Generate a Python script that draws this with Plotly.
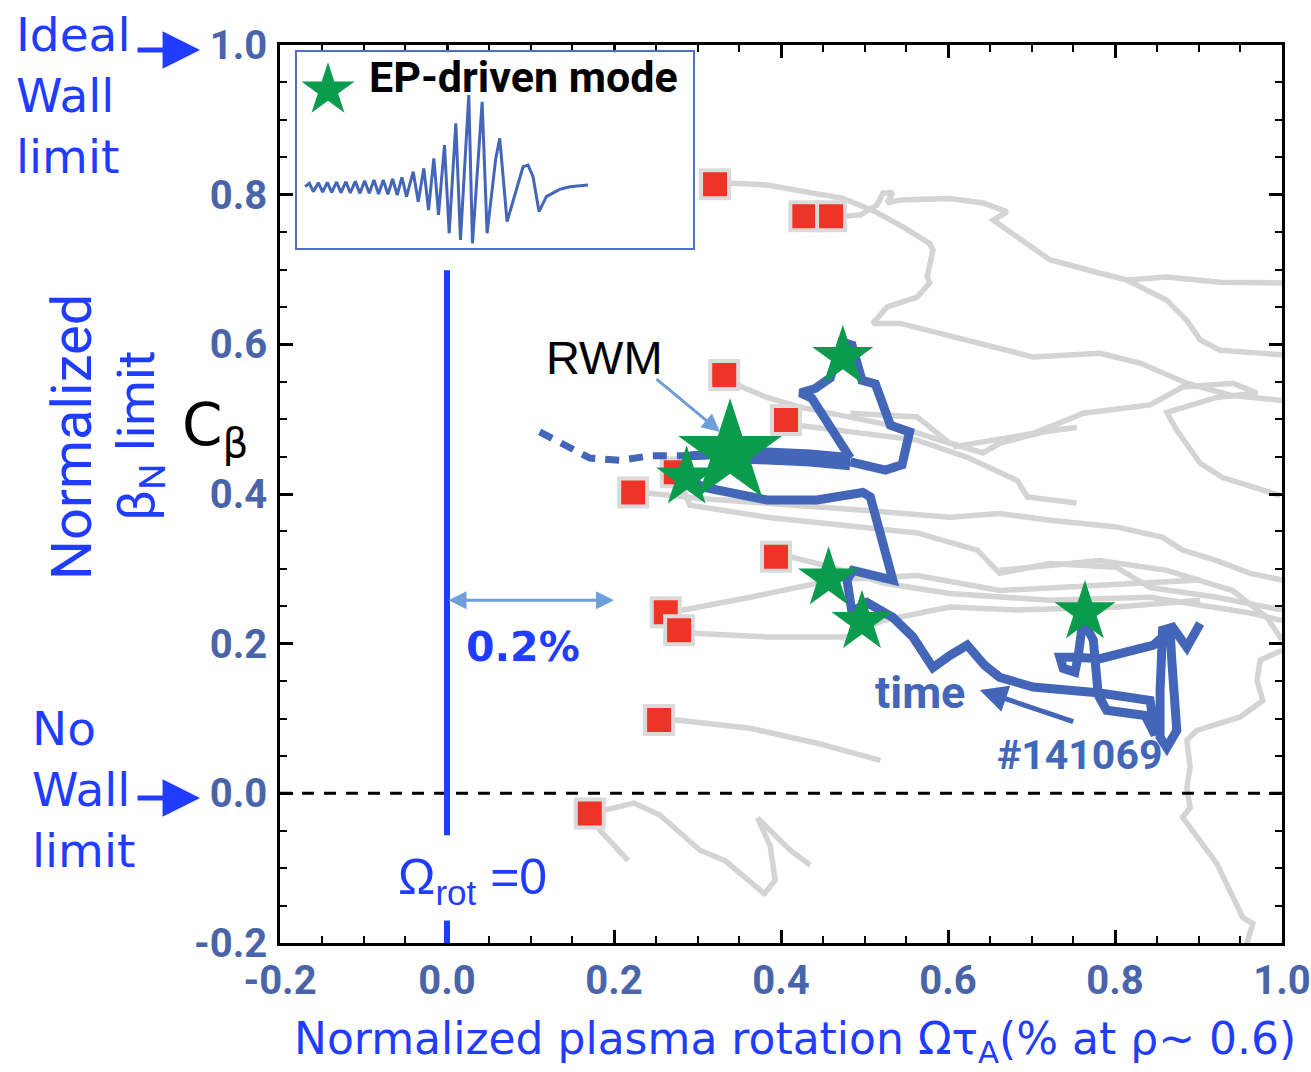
import plotly.graph_objects as go

# ---- tick labels ----
tick_vals = [-0.2, 0.0, 0.2, 0.4, 0.6, 0.8, 1.0]
tick_text = ["-0.2", "0.0", "0.2", "0.4", "0.6", "0.8", "1.0"]

# ---- stability database: onset points (red) and their trajectories (grey) ----
onset_x = [0.321, 0.428, 0.460, 0.332, 0.406, 0.223, 0.274, 0.394, 0.262, 0.278, 0.254, 0.171]
onset_y = [0.814, 0.771, 0.771, 0.559, 0.499, 0.402, 0.429, 0.316, 0.242, 0.218, 0.098, -0.027]

traj_a_x = [0.331, 0.383, 0.474, 0.510, 0.546, 0.578, 0.582, 0.575, 0.578, 0.563, 0.527, 0.510, 0.543, 0.623, 0.702, 0.782, 0.830, 0.886, 0.938, 1.0]
traj_a_y = [0.816, 0.813, 0.795, 0.779, 0.757, 0.735, 0.726, 0.690, 0.682, 0.663, 0.650, 0.628, 0.628, 0.606, 0.583, 0.588, 0.575, 0.548, 0.532, 0.525]
traj_b_x = [0.474, 0.495, 0.515, 0.522, 0.534, 0.527, 0.543, 0.602, 0.642, 0.671, 0.654, 0.683, 0.722, 0.782, 0.814, 0.862, 0.926, 1.0]
traj_b_y = [0.771, 0.773, 0.786, 0.802, 0.803, 0.789, 0.793, 0.795, 0.789, 0.777, 0.766, 0.743, 0.713, 0.695, 0.686, 0.690, 0.683, 0.682]
traj_c_x = [0.814, 0.862, 0.886, 0.902, 0.926, 1.0]
traj_c_y = [0.686, 0.659, 0.632, 0.606, 0.592, 0.586]
traj_d_x = [0.343, 0.383, 0.423, 0.503, 0.543, 0.590, 0.642, 0.662, 0.722, 0.754]
traj_d_y = [0.548, 0.529, 0.516, 0.499, 0.489, 0.472, 0.455, 0.468, 0.485, 0.489]
traj_e_x = [0.606, 0.650, 0.702, 0.734, 0.762, 0.842, 0.881, 0.941, 0.970, 0.922, 0.862, 0.874, 0.902, 0.929, 0.998]
traj_e_y = [0.463, 0.472, 0.481, 0.495, 0.508, 0.519, 0.543, 0.548, 0.535, 0.529, 0.509, 0.485, 0.441, 0.422, 0.398]
traj_f_x = [0.420, 0.483, 0.563, 0.623, 0.683, 0.695, 0.754]
traj_f_y = [0.492, 0.483, 0.472, 0.449, 0.418, 0.396, 0.388]
traj_g_x = [0.223, 0.243, 0.303, 0.383, 0.503, 0.602, 0.662, 0.722, 0.802, 0.857, 0.881, 0.922, 0.962, 1.0]
traj_g_y = [0.402, 0.401, 0.394, 0.388, 0.378, 0.369, 0.374, 0.365, 0.356, 0.342, 0.325, 0.311, 0.294, 0.285]
traj_h_x = [0.274, 0.291, 0.383, 0.503, 0.563, 0.635, 0.662, 0.722, 0.802, 0.842, 0.922, 1.0]
traj_h_y = [0.429, 0.385, 0.369, 0.356, 0.348, 0.325, 0.294, 0.307, 0.302, 0.275, 0.262, 0.245]
traj_i_x = [0.394, 0.411, 0.462, 0.522, 0.602, 0.722, 0.842, 0.962, 1.0]
traj_i_y = [0.316, 0.316, 0.302, 0.281, 0.267, 0.258, 0.262, 0.241, 0.231]
traj_j_x = [0.262, 0.283, 0.363, 0.443, 0.462, 0.563, 0.662, 0.782, 0.902]
traj_j_y = [0.242, 0.245, 0.262, 0.281, 0.285, 0.291, 0.271, 0.278, 0.285]
traj_k_x = [0.278, 0.295, 0.383, 0.479, 0.522, 0.602, 0.683, 0.802, 0.902]
traj_k_y = [0.218, 0.214, 0.209, 0.209, 0.231, 0.249, 0.245, 0.249, 0.258]
traj_l_x = [0.254, 0.275, 0.363, 0.443, 0.519]
traj_l_y = [0.098, 0.098, 0.087, 0.067, 0.044]
traj_m_x = [0.171, 0.224, 0.255, 0.303, 0.333, 0.380, 0.393, 0.387, 0.372, 0.387, 0.411, 0.435]
traj_m_y = [-0.027, -0.013, -0.029, -0.076, -0.090, -0.134, -0.116, -0.070, -0.033, -0.049, -0.076, -0.096]
traj_n_x = [0.171, 0.183, 0.217]
traj_n_y = [-0.027, -0.049, -0.090]
traj_o_x = [1.0, 0.974, 0.970, 0.977, 0.950, 0.898, 0.886, 0.890, 0.886, 0.890, 0.881, 0.922, 0.953, 0.965, 0.958]
traj_o_y = [0.191, 0.178, 0.151, 0.124, 0.102, 0.084, 0.071, 0.035, 0.008, -0.019, -0.032, -0.094, -0.166, -0.174, -0.201]
traj_p_x = [0.483, 0.563, 0.602, 0.642, 0.662, 0.702, 0.754]
traj_p_y = [0.508, 0.503, 0.468, 0.455, 0.468, 0.481, 0.489]
traj_q_x = [0.662, 0.782, 0.862, 0.941, 0.982, 1.0]
traj_q_y = [0.298, 0.311, 0.298, 0.271, 0.235, 0.205]

# ---- discharge #141069 ----
shot_x = [0.902, 0.886, 0.869, 0.857, 0.854, 0.854, 0.862, 0.874, 0.868, 0.866, 0.846, 0.782, 0.754, 0.734, 0.738,
          0.752, 0.756, 0.760, 0.766, 0.774, 0.780, 0.790, 0.836, 0.848, 0.842, 0.782, 0.702, 0.662, 0.644, 0.623,
          0.602, 0.582, 0.558, 0.534, 0.503, 0.485, 0.479, 0.486, 0.534, 0.507, 0.498, 0.443, 0.383, 0.343, 0.307, 0.287]
shot_y = [0.227, 0.195, 0.222, 0.218, 0.138, 0.075, 0.061, 0.084, 0.178, 0.218, 0.198, 0.180, 0.182, 0.182, 0.167,
          0.162, 0.184, 0.218, 0.222, 0.205, 0.131, 0.111, 0.104, 0.078, 0.124, 0.134, 0.142, 0.155, 0.171, 0.198,
          0.184, 0.168, 0.209, 0.235, 0.255, 0.242, 0.285, 0.298, 0.285, 0.396, 0.402, 0.392, 0.392, 0.401, 0.409, 0.422]
loop_x = [0.483, 0.437, 0.423, 0.441, 0.459, 0.473, 0.485, 0.497, 0.513, 0.531, 0.554, 0.545, 0.525, 0.483]
loop_y = [0.448, 0.528, 0.535, 0.541, 0.555, 0.603, 0.599, 0.552, 0.547, 0.492, 0.483, 0.439, 0.432, 0.443]
band_x = [0.339, 0.375, 0.435, 0.483]
band_y = [0.453, 0.452, 0.448, 0.443]
pre_band_x = [0.291, 0.339]
pre_band_y = [0.451, 0.453]
late_x = [0.111, 0.141, 0.171, 0.207, 0.243, 0.291]
late_y = [0.483, 0.465, 0.448, 0.445, 0.451, 0.451]

# ---- EP-driven mode events ----
ep_x = [0.474, 0.339, 0.287, 0.457, 0.497, 0.764]
ep_y = [0.583, 0.455, 0.422, 0.287, 0.229, 0.242]

# ---- EP mode magnetic signal (inset) ----
sig_t = [0, 1.3, 2.5, 4.0, 5.3, 6.7, 8.0, 9.5, 10.8, 12.3, 13.6, 15.1, 16.5, 17.9, 19.3, 20.7, 22.1, 23.5, 24.9,
         26.3, 27.7, 29.1, 30.5, 32.5, 34.0, 35.7, 37.1, 38.7, 40.1, 41.9, 43.3, 45.3, 46.7, 49.2, 50.3, 53.2,
         54.7, 57.3, 58.5, 60.7, 65.5, 67.0, 68.5, 70.3, 72.5, 76.5, 79.5, 85.0]
sig_a = [0, 1.0, -1.5, 1.2, -1.6, 1.3, -1.7, 1.4, -1.8, 1.5, -1.9, 1.6, -2.0, 1.8, -2.0, 2.0, -2.2, 2.0, -2.3,
         2.3, -2.5, 2.8, -3.0, 4.5, -4.5, 5.5, -7.0, 8.5, -8.5, 12.5, -14.0, 19.0, -16.0, 27.5, -17.0, 25.5,
         -14.0, 8.5, 14.5, -10.5, 6.0, 6.5, 3.0, -7.5, -3.0, -0.8, 0.0, 0.5]
legend_star_t = [6.9]
legend_star_a = [29.0]

BLUE = "#1f3cff"
SHOT = "#4466b8"
GREY = "rgb(212,212,212)"
TICK = "#4a64aa"
STAR = "#0a9b4c"
COND = "Roboto, Liberation Sans, sans-serif"
WIDE = "DejaVu Sans, Verdana, sans-serif"

fig = go.Figure()

grey_paths = [(traj_a_x, traj_a_y), (traj_b_x, traj_b_y), (traj_c_x, traj_c_y), (traj_d_x, traj_d_y),
              (traj_e_x, traj_e_y), (traj_f_x, traj_f_y), (traj_g_x, traj_g_y), (traj_h_x, traj_h_y),
              (traj_i_x, traj_i_y), (traj_j_x, traj_j_y), (traj_k_x, traj_k_y), (traj_l_x, traj_l_y),
              (traj_m_x, traj_m_y), (traj_n_x, traj_n_y), (traj_o_x, traj_o_y), (traj_p_x, traj_p_y),
              (traj_q_x, traj_q_y)]
for gx, gy in grey_paths:
    fig.add_trace(go.Scatter(x=gx, y=gy, mode="lines", line=dict(color=GREY, width=5.5),
                             hoverinfo="skip", showlegend=False))

fig.add_trace(go.Scatter(x=onset_x, y=onset_y, mode="markers", showlegend=False,
                         marker=dict(symbol="square", size=28, color="#ee3426", opacity=1,
                                     line=dict(color="rgb(218,218,218)", width=4))))

fig.add_trace(go.Scatter(x=late_x, y=late_y, mode="lines", showlegend=False,
                         line=dict(color=SHOT, width=7, dash="14px,10px")))
fig.add_trace(go.Scatter(x=pre_band_x, y=pre_band_y, mode="lines", showlegend=False,
                         line=dict(color=SHOT, width=9)))
fig.add_trace(go.Scatter(x=band_x, y=band_y, mode="lines", showlegend=False,
                         line=dict(color=SHOT, width=17)))
fig.add_trace(go.Scatter(x=loop_x, y=loop_y, mode="lines", showlegend=False,
                         line=dict(color=SHOT, width=9)))
fig.add_trace(go.Scatter(x=shot_x, y=shot_y, mode="lines", showlegend=False,
                         line=dict(color=SHOT, width=9)))

fig.add_trace(go.Scatter(x=ep_x, y=ep_y, mode="markers", showlegend=False,
                         marker=dict(symbol="star", size=[46, 78, 46, 46, 46, 46], color=STAR,
                                     opacity=1, line=dict(width=0))))

# inset trace
fig.add_trace(go.Scatter(x=sig_t, y=sig_a, mode="lines", xaxis="x2", yaxis="y2", showlegend=False,
                         line=dict(color=SHOT, width=3)))
fig.add_trace(go.Scatter(x=legend_star_t, y=legend_star_a, mode="markers", xaxis="x2", yaxis="y2",
                         showlegend=False, marker=dict(symbol="star", size=40, color=STAR, opacity=1)))

axis_common = dict(
    showgrid=False, zeroline=False, showline=True, linecolor="black", linewidth=2.5,
    mirror="ticks", ticks="inside", ticklen=13, tickwidth=2.5, tickcolor="black",
    tickvals=tick_vals, ticktext=tick_text, automargin=False,
    tickfont=dict(family=COND, size=40, color=TICK, weight="bold"),
    minor=dict(ticks="inside", ticklen=7, tickwidth=2, tickcolor="black", dtick=0.05),
)

fig.update_layout(
    width=1311, height=1072,
    margin=dict(l=280, r=29, t=45, b=129),
    plot_bgcolor="white", paper_bgcolor="white",
    xaxis=dict(range=[-0.2, 1.0], ticklabelstandoff=0, **axis_common),
    yaxis=dict(range=[-0.2, 1.0], ticklabelstandoff=2, **axis_common),
    xaxis2=dict(domain=[0.017, 0.412], anchor="y2", range=[-2.4, 116.5], showgrid=False, zeroline=False,
                showline=True, mirror=True, linecolor="#4f6fbf", linewidth=1.5, showticklabels=False, ticks="",
                automargin=False),
    yaxis2=dict(domain=[0.774, 0.992], anchor="x2", range=[-18.4, 40.4], showgrid=False, zeroline=False,
                showline=True, mirror=True, linecolor="#4f6fbf", linewidth=1.5, showticklabels=False, ticks="",
                automargin=False),
)

# no-wall line and Omega_rot = 0 marker line
fig.add_shape(type="line", x0=-0.2, x1=1.0, y0=0, y1=0, xref="x", yref="y",
              line=dict(color="black", width=3, dash="12px,10px"))
fig.add_shape(type="line", x0=0, x1=0, y0=0.699, y1=-0.056, xref="x", yref="y",
              line=dict(color=BLUE, width=6))
fig.add_shape(type="line", x0=0, x1=0, y0=-0.170, y1=-0.2, xref="x", yref="y",
              line=dict(color=BLUE, width=6))

ann = []
# left-side labels
ann.append(dict(text="Ideal<br>Wall<br>limit", xref="paper", yref="paper", x=-0.2655, y=1.045,
                xanchor="left", yanchor="top", align="left", showarrow=False,
                font=dict(family=WIDE, size=47, color=BLUE)))
ann.append(dict(text="No<br>Wall<br>limit", xref="paper", yref="paper", x=-0.2495, y=0.272,
                xanchor="left", yanchor="top", align="left", showarrow=False,
                font=dict(family=WIDE, size=47, color=BLUE)))
for ypap in (0.9944, 0.1615):
    ann.append(dict(text="", xref="paper", yref="paper", x=-0.0798, y=ypap, ax=-64, ay=0,
                    showarrow=True, arrowhead=2, arrowsize=1.5, arrowwidth=5, arrowcolor=BLUE))
ann.append(dict(text="Normalized", xref="paper", yref="paper", x=-0.2076, y=0.5635, textangle=-90,
                xanchor="center", yanchor="middle", showarrow=False,
                font=dict(family=COND, size=56, color=BLUE)))
ann.append(dict(text="β<sub>N</sub> limit", xref="paper", yref="paper", x=-0.1397, y=0.565, textangle=-90,
                xanchor="center", yanchor="middle", showarrow=False,
                font=dict(family=COND, size=52, color=BLUE)))
ann.append(dict(text="C<sub>β</sub>", xref="paper", yref="paper", x=-0.065, y=0.572,
                xanchor="center", yanchor="middle", showarrow=False,
                font=dict(family=WIDE, size=58, color="black")))

# x-axis title
ann.append(dict(text="Normalized plasma rotation Ωτ<sub>A</sub>(% at ρ~ 0.6)", xref="paper", yref="paper",
                x=0.514, y=-0.110, xanchor="center", yanchor="middle", showarrow=False,
                font=dict(family=WIDE, size=44, color=BLUE)))

# in-plot labels
ann.append(dict(text="EP-driven mode", xref="x", yref="y", x=-0.096, y=0.957, xanchor="left",
                yanchor="middle", showarrow=False, font=dict(family=COND, size=43, color="black", weight="bold")))
ann.append(dict(text="RWM", xref="x", yref="y", x=0.189, y=0.583, xanchor="center", yanchor="middle",
                showarrow=False, font=dict(family="Liberation Sans, Arial, sans-serif", size=47, color="black")))
ann.append(dict(text="", xref="x", yref="y", x=0.327, y=0.483, ax=-65, ay=-54, showarrow=True,
                arrowhead=2, arrowsize=1.2, arrowwidth=3, arrowcolor="#6f9fd8"))
ann.append(dict(text="", xref="x", yref="y", x=0.2, y=0.258, axref="x", ayref="y", ax=0.0, ay=0.258,
                showarrow=True, arrowhead=2, arrowside="end+start", arrowsize=1.2, arrowwidth=3,
                arrowcolor="#6f9fd8"))
ann.append(dict(text="<b>0.2%</b>", xref="x", yref="y", x=0.091, y=0.195, xanchor="center", yanchor="middle",
                showarrow=False, font=dict(family=WIDE, size=41, color=BLUE)))
ann.append(dict(text="Ω<sub>rot</sub> =0", xref="x", yref="y", x=0.031, y=-0.116, xanchor="center",
                yanchor="middle", showarrow=False,
                font=dict(family="Liberation Sans, Arial, sans-serif", size=50, color=BLUE)))
ann.append(dict(text="time", xref="x", yref="y", x=0.566, y=0.135, xanchor="center", yanchor="middle",
                showarrow=False, font=dict(family=COND, size=45, color=SHOT, weight="bold")))
ann.append(dict(text="", xref="x", yref="y", x=0.638, y=0.138, ax=95, ay=32, showarrow=True,
                arrowhead=2, arrowsize=1.1, arrowwidth=5, arrowcolor=SHOT))
ann.append(dict(text="#141069", xref="x", yref="y", x=0.758, y=0.051, xanchor="center", yanchor="middle",
                showarrow=False, font=dict(family=COND, size=41, color=SHOT, weight="bold")))

fig.update_layout(annotations=ann)
fig.write_html("out.html")
